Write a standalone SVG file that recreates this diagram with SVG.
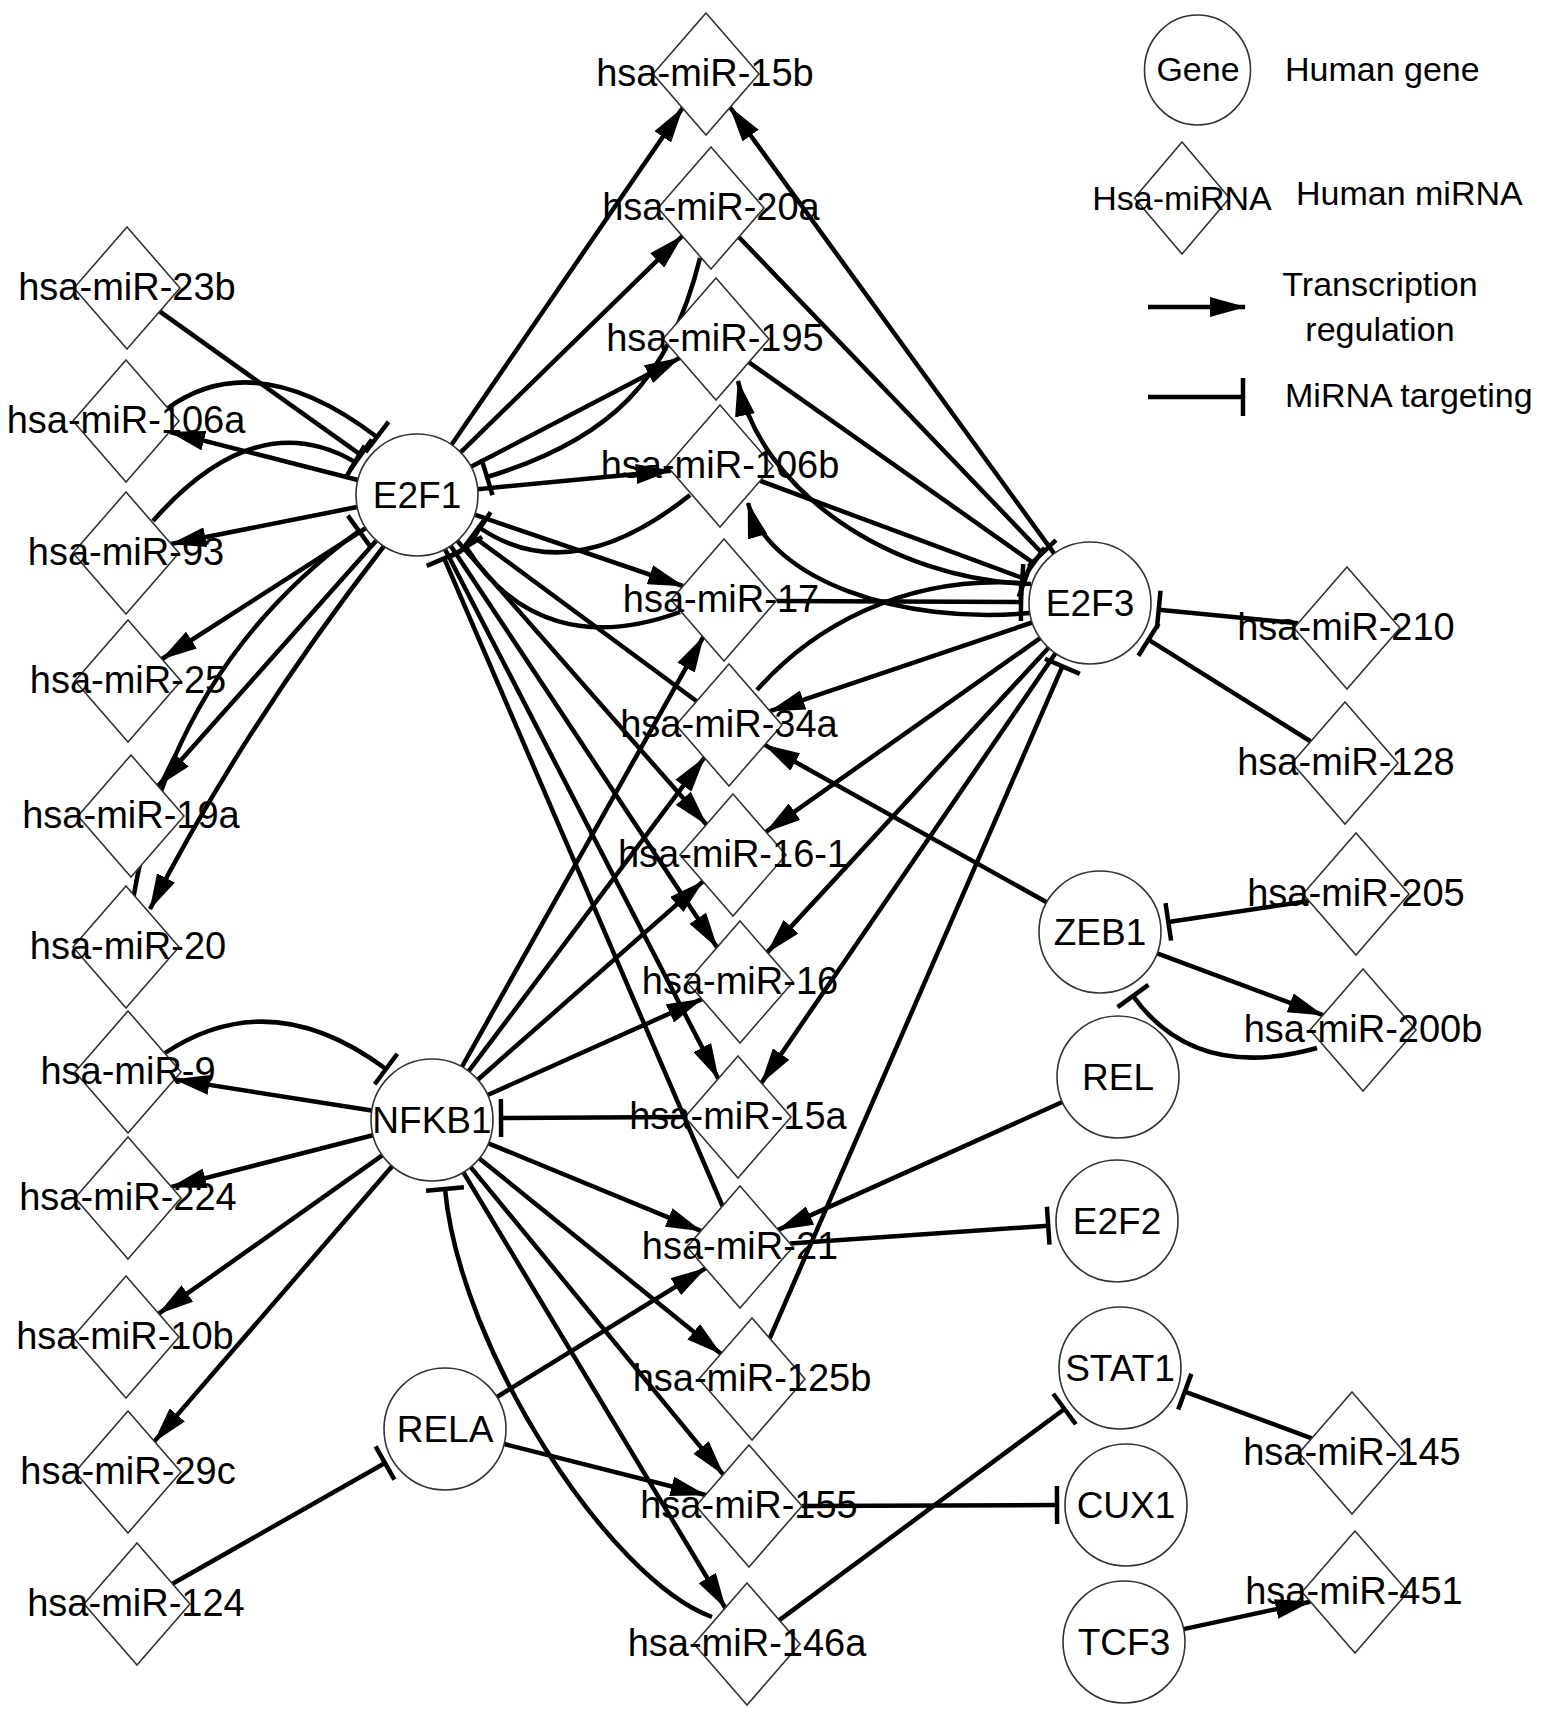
<svg xmlns="http://www.w3.org/2000/svg" width="1547" height="1717" viewBox="0 0 1547 1717">
<defs>
<style>
.e{fill:none;stroke:#000;stroke-width:4.5}
.a{marker-end:url(#arr)}
.t{marker-end:url(#tee)}
.d{fill:#fff;stroke:#333;stroke-width:1.6}
.g{fill:#fff;stroke:#333;stroke-width:1.6}
.l{font-family:"Liberation Sans",Arial,sans-serif;font-size:38px;text-anchor:middle;fill:#000}
.gl{font-size:37px}
.lg{font-family:"Liberation Sans",Arial,sans-serif;font-size:34px;fill:#000}
</style>
<marker id="arr" markerUnits="userSpaceOnUse" viewBox="0 0 36 20" markerWidth="36" markerHeight="20" refX="35" refY="10" orient="auto"><path d="M0,0 L36,10 L0,20 z" fill="#000"/></marker>
<marker id="tee" markerUnits="userSpaceOnUse" viewBox="-3 -20 6 40" markerWidth="6" markerHeight="40" refX="0" refY="0" orient="auto" overflow="visible"><path d="M0,-19 V19" stroke="#000" stroke-width="4.5"/></marker>
</defs>
<rect width="1547" height="1717" fill="#fff"/>

<g id="connectors">
<!-- transcription regulation -->
<path class="e a" d="M358,480 L170,432"/>
<path class="e a" d="M357,507 L171,544"/>
<path class="e a" d="M366,528 L162,659"/>
<path class="e a" d="M376,541 L158,786"/>
<path class="e a" d="M384,546 Q243,728 150,909"/>
<path class="e a" d="M451.5,444.7 L682.6,108"/>
<path class="e a" d="M460.6,452.4 L682.3,236"/>
<path class="e a" d="M471,466.8 L679.5,358"/>
<path class="e a" d="M477.7,489.2 L671,470.7"/>
<path class="e a" d="M474.7,514.7 L683,586"/>
<path class="e a" d="M457.2,540.8 L706.4,824.6"/>
<path class="e a" d="M450.7,545.8 L717.1,947.4"/>
<path class="e a" d="M445,549.2 L718.3,1078.7"/>
<path class="e a" d="M371.7,1110.5 L174.6,1079.4"/>
<path class="e a" d="M372.9,1135.2 L171.3,1186.9"/>
<path class="e a" d="M382.2,1155.3 L158.8,1313.7"/>
<path class="e a" d="M392.1,1166.2 L154.4,1441.4"/>
<path class="e a" d="M461.9,1066.8 L703.2,637.1"/>
<path class="e a" d="M468.7,1071.2 L704.4,757.7"/>
<path class="e a" d="M477.8,1079.7 L703,881.4"/>
<path class="e a" d="M487.7,1095 L701.8,999.1"/>
<path class="e a" d="M488.4,1143.3 L701,1230.9"/>
<path class="e a" d="M479.4,1158.4 L720.9,1353.8"/>
<path class="e a" d="M470.7,1167.1 L723.3,1474.6"/>
<path class="e a" d="M463.4,1172.3 L725.3,1608"/>
<path class="e a" d="M496.9,1397 L705.5,1268.3"/>
<path class="e a" d="M504.1,1444 L705.6,1495"/>
<path class="e a" d="M1062.4,1102 L778.1,1229.9"/>
<path class="e a" d="M1157.2,953.3 L1323,1015.1"/>
<path class="e a" d="M1046.7,902.3 L764.7,744.9"/>
<path class="e a" d="M1183.6,1629.1 L1310.4,1601.7"/>
<path class="e a" d="M1054.2,553.6 L730.1,107.2"/>
<path class="e a" d="M1031,584 C890,580 760,490 738,381"/>
<path class="e a" d="M1030,613 C900,625 770,580 748,503"/>
<path class="e a" d="M1032.2,622.5 L770,711.2"/>
<path class="e a" d="M1040.2,638.2 L765.9,831.8"/>
<path class="e a" d="M1048.6,647.8 L767.3,952.4"/>
<path class="e a" d="M1055.5,653.3 L761.4,1082.9"/>
<!-- miRNA targeting -->
<path class="e t" d="M159.7,311.4 L360.8,454.9"/>
<path class="e t" d="M168,408 Q256,345 377,437"/>
<path class="e t" d="M153,521 Q256,404 355,462"/>
<path class="e t" d="M133,900 Q171.5,667.5 359,531"/>
<path class="e t" d="M700,258 C670,380 610,440 487,477"/>
<path class="e t" d="M690,495 Q571.5,589.7 480,528"/>
<path class="e t" d="M680,612 C590,645 515,625 466,547"/>
<path class="e t" d="M696.7,701.2 L472.5,535.9"/>
<path class="e t" d="M722.5,1206.2 L444.2,558.4"/>
<path class="e t" d="M165,1053 Q270.5,983 386,1069"/>
<path class="e t" d="M685,1117 L501,1118"/>
<path class="e t" d="M712,1617 C610,1580 460,1350 445,1189"/>
<path class="e t" d="M172.5,1583.8 L385,1463"/>
<path class="e t" d="M790,1243.5 L1048.2,1225.7"/>
<path class="e t" d="M802,1506 L1057,1505"/>
<path class="e t" d="M779.3,1620.1 L1064.5,1409"/>
<path class="e t" d="M1311.8,1438.3 L1184.8,1391.7"/>
<path class="e t" d="M1309,901 L1168.3,921.9"/>
<path class="e t" d="M1317,1048 Q1195,1082 1133,996"/>
<path class="e t" d="M1298.1,623.2 L1158.7,609.7"/>
<path class="e t" d="M1310.7,741.5 L1148.5,639.7"/>
<path class="e t" d="M738.8,237 L1042.2,553.2"/>
<path class="e t" d="M748.8,362.2 L1033.6,563.2"/>
<path class="e t" d="M760.1,480.8 L1025.3,579"/>
<path class="e t" d="M777,601 L1021,602"/>
<path class="e t" d="M757,690 C810,630 900,575 1022,583"/>
<path class="e t" d="M769.7,1338.3 L1062.4,666.3"/>
</g>

<g id="legend">
<ellipse class="g" cx="1197.5" cy="70" rx="53" ry="55"/>
<text class="lg" x="1198" y="81" text-anchor="middle">Gene</text>
<text class="lg" x="1285" y="81">Human gene</text>
<polygon class="d" points="1182,142 1229.5,198 1182,254 1134.5,198"/>
<text class="lg" x="1182" y="210" text-anchor="middle">Hsa-miRNA</text>
<text class="lg" x="1296" y="205">Human miRNA</text>
<path class="e a" d="M1148,307 L1245,307"/>
<text class="lg" x="1380" y="296" text-anchor="middle">Transcription</text>
<text class="lg" x="1380" y="341" text-anchor="middle">regulation</text>
<path class="e t" d="M1148,397 L1243,397"/>
<text class="lg" x="1285" y="407">MiRNA targeting</text>
</g>

<g id="n-E2F1"><circle class="g" cx="417" cy="495" r="61"/><text class="l gl" x="417" y="508">E2F1</text></g>
<g id="n-E2F3"><circle class="g" cx="1090" cy="603" r="61"/><text class="l gl" x="1090" y="616">E2F3</text></g>
<g id="n-NFKB1"><circle class="g" cx="432" cy="1120" r="61"/><text class="l gl" x="432" y="1133">NFKB1</text></g>
<g id="n-RELA"><circle class="g" cx="445" cy="1429" r="61"/><text class="l gl" x="445" y="1442">RELA</text></g>
<g id="n-ZEB1"><circle class="g" cx="1100" cy="932" r="61"/><text class="l gl" x="1100" y="945">ZEB1</text></g>
<g id="n-REL"><circle class="g" cx="1118" cy="1077" r="61"/><text class="l gl" x="1118" y="1090">REL</text></g>
<g id="n-E2F2"><circle class="g" cx="1117" cy="1221" r="61"/><text class="l gl" x="1117" y="1234">E2F2</text></g>
<g id="n-STAT1"><circle class="g" cx="1120" cy="1368" r="61"/><text class="l gl" x="1120" y="1381">STAT1</text></g>
<g id="n-CUX1"><circle class="g" cx="1126" cy="1505" r="61"/><text class="l gl" x="1126" y="1518">CUX1</text></g>
<g id="n-TCF3"><circle class="g" cx="1124" cy="1642" r="61"/><text class="l gl" x="1124" y="1655">TCF3</text></g>

<g id="m-23b"><polygon class="d" points="127,227 180,288 127,349 74,288"/><text class="l" x="127" y="300">hsa-miR-23b</text></g>
<g id="m-106a"><polygon class="d" points="126,360 179,421 126,482 73,421"/><text class="l" x="126" y="433">hsa-miR-106a</text></g>
<g id="m-93"><polygon class="d" points="126,492 179,553 126,614 73,553"/><text class="l" x="126" y="565">hsa-miR-93</text></g>
<g id="m-25"><polygon class="d" points="128,620 181,681 128,742 75,681"/><text class="l" x="128" y="693">hsa-miR-25</text></g>
<g id="m-19a"><polygon class="d" points="131,755 184,816 131,877 78,816"/><text class="l" x="131" y="828">hsa-miR-19a</text></g>
<g id="m-20"><polygon class="d" points="126,886 179,947 126,1008 73,947"/><text class="l" x="128" y="959">hsa-miR-20</text></g>
<g id="m-9"><polygon class="d" points="128,1011 181,1072 128,1133 75,1072"/><text class="l" x="128" y="1084">hsa-miR-9</text></g>
<g id="m-224"><polygon class="d" points="128,1137 181,1198 128,1259 75,1198"/><text class="l" x="128" y="1210">hsa-miR-224</text></g>
<g id="m-10b"><polygon class="d" points="126,1276 179,1337 126,1398 73,1337"/><text class="l" x="125" y="1349">hsa-miR-10b</text></g>
<g id="m-29c"><polygon class="d" points="128,1411 181,1472 128,1533 75,1472"/><text class="l" x="128" y="1484">hsa-miR-29c</text></g>
<g id="m-124"><polygon class="d" points="137,1543 190,1604 137,1665 84,1604"/><text class="l" x="136" y="1616">hsa-miR-124</text></g>

<g id="m-15b"><polygon class="d" points="706,13 759,74 706,135 653,74"/><text class="l" x="705" y="86">hsa-miR-15b</text></g>
<g id="m-20a"><polygon class="d" points="711,147 764,208 711,269 658,208"/><text class="l" x="711" y="220">hsa-miR-20a</text></g>
<g id="m-195"><polygon class="d" points="716,278 769,339 716,400 663,339"/><text class="l" x="715" y="351">hsa-miR-195</text></g>
<g id="m-106b"><polygon class="d" points="720,405 773,466 720,527 667,466"/><text class="l" x="720" y="478">hsa-miR-106b</text></g>
<g id="m-17"><polygon class="d" points="724,539 777,600 724,661 671,600"/><text class="l" x="721" y="612">hsa-miR-17</text></g>
<g id="m-34a"><polygon class="d" points="729,664 782,725 729,786 676,725"/><text class="l" x="729" y="737">hsa-miR-34a</text></g>
<g id="m-16-1"><polygon class="d" points="733,794 786,855 733,916 680,855"/><text class="l" x="733" y="867">hsa-miR-16-1</text></g>
<g id="m-16"><polygon class="d" points="740,921 793,982 740,1043 687,982"/><text class="l" x="740" y="994">hsa-miR-16</text></g>
<g id="m-15a"><polygon class="d" points="738,1056 791,1117 738,1178 685,1117"/><text class="l" x="738" y="1129">hsa-miR-15a</text></g>
<g id="m-21"><polygon class="d" points="740,1186 793,1247 740,1308 687,1247"/><text class="l" x="740" y="1259">hsa-miR-21</text></g>
<g id="m-125b"><polygon class="d" points="752,1318 805,1379 752,1440 699,1379"/><text class="l" x="752" y="1391">hsa-miR-125b</text></g>
<g id="m-155"><polygon class="d" points="749,1445 802,1506 749,1567 696,1506"/><text class="l" x="749" y="1518">hsa-miR-155</text></g>
<g id="m-146a"><polygon class="d" points="747,1583 800,1644 747,1705 694,1644"/><text class="l" x="747" y="1656">hsa-miR-146a</text></g>

<g id="m-210"><polygon class="d" points="1347,567 1400,628 1347,689 1294,628"/><text class="l" x="1346" y="640">hsa-miR-210</text></g>
<g id="m-128"><polygon class="d" points="1345,702 1398,763 1345,824 1292,763"/><text class="l" x="1346" y="775">hsa-miR-128</text></g>
<g id="m-205"><polygon class="d" points="1356,833 1409,894 1356,955 1303,894"/><text class="l" x="1356" y="906">hsa-miR-205</text></g>
<g id="m-200b"><polygon class="d" points="1363,969 1416,1030 1363,1091 1310,1030"/><text class="l" x="1363" y="1042">hsa-miR-200b</text></g>
<g id="m-145"><polygon class="d" points="1352,1392 1405,1453 1352,1514 1299,1453"/><text class="l" x="1352" y="1465">hsa-miR-145</text></g>
<g id="m-451"><polygon class="d" points="1355,1531 1408,1592 1355,1653 1302,1592"/><text class="l" x="1354" y="1604">hsa-miR-451</text></g>
</svg>
